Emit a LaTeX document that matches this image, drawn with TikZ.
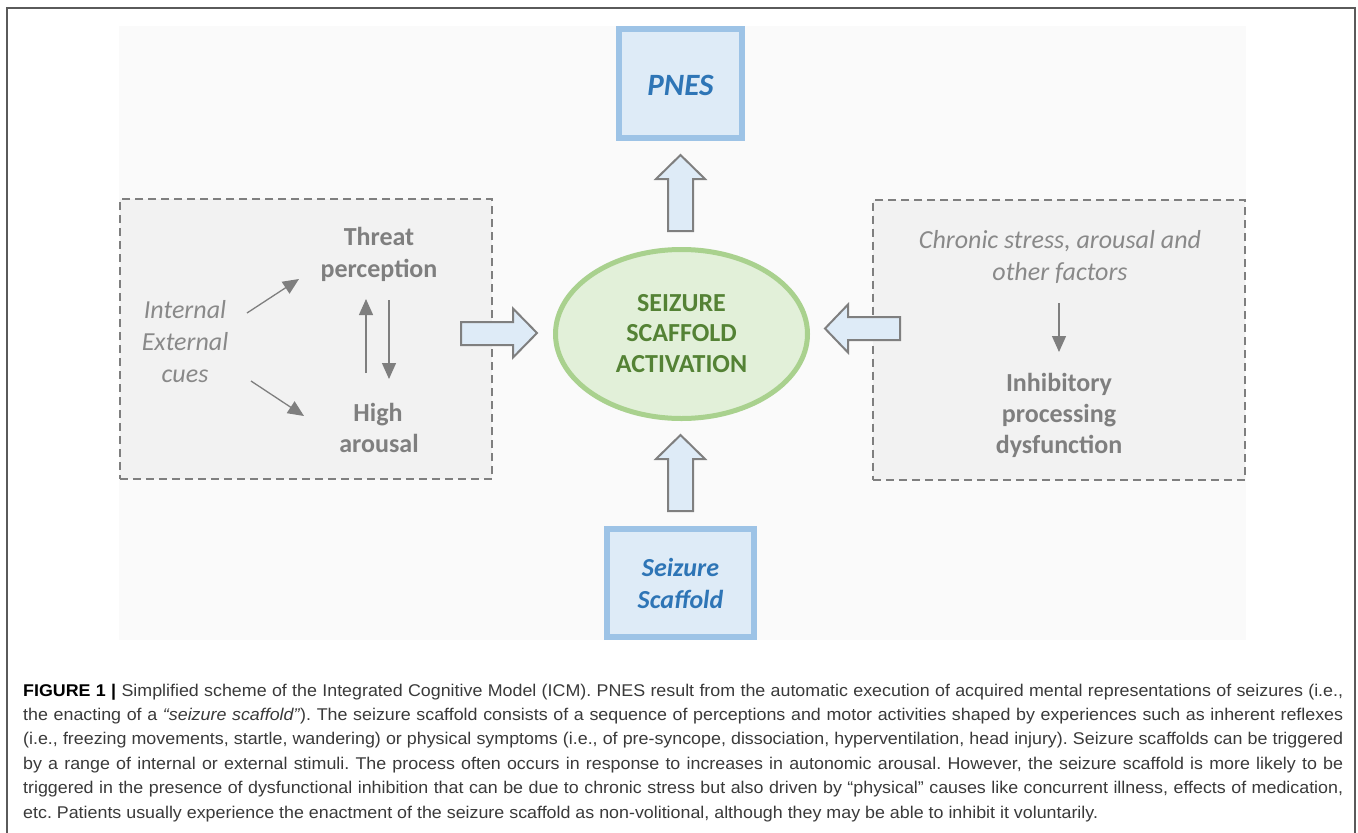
\documentclass[tikz,border=0pt]{standalone}
\usepackage{fontspec}
\setmainfont{Carlito}
\newfontfamily\capfont[FakeStretch=1.05]{Liberation Sans}
\usetikzlibrary{shapes.geometric,arrows.meta}
\definecolor{panelbg}{HTML}{FAFAFA}
\definecolor{boxbg}{HTML}{F2F2F2}
\definecolor{dashc}{HTML}{7F7F7F}
\definecolor{bfill}{HTML}{DEEBF7}
\definecolor{bborder}{HTML}{9DC3E6}
\definecolor{btext}{HTML}{2E75B6}
\definecolor{gfill}{HTML}{E2F0D9}
\definecolor{gborder}{HTML}{A9D18E}
\definecolor{gtext}{HTML}{548235}
\definecolor{tgray}{HTML}{7F7F7F}
\definecolor{igray}{HTML}{898989}
\definecolor{agray}{HTML}{7F7F7F}
\definecolor{captext}{HTML}{3A3A3A}
\definecolor{framec}{HTML}{5A5A5A}
\begin{document}
\begin{tikzpicture}[x=1pt,y=-1pt,
  dashbox/.style={draw=dashc, fill=boxbg, line width=2pt, dash pattern=on 8pt off 5pt, minimum width=372pt, minimum height=280pt, inner sep=0pt},
  bluebox/.style={draw=bborder, fill=bfill, line width=6pt, inner sep=0pt},
  blockarrow/.style={draw=agray, fill=bfill, line width=2pt, line join=miter},
  smallarrow/.style={draw=tgray, line width=1.3pt, -{Triangle[length=16pt,width=14pt]}},
  boldtxt/.style={font=\fontsize{26}{32}\selectfont\bfseries, text=tgray, inner sep=0pt, anchor=base},
  itxt/.style={font=\fontsize{26}{32}\selectfont\itshape, text=igray, inner sep=0pt, anchor=base},
  greentxt/.style={font=\fontsize{26}{32}\selectfont\bfseries, text=gtext, inner sep=0pt, anchor=base},
  bluetxt/.style={font=\fontsize{26}{32}\selectfont\bfseries\itshape, text=btext, inner sep=0pt, anchor=base},
  captxt/.style={font=\capfont\fontsize{17}{20}\selectfont\frenchspacing, text=captext, inner sep=0pt, anchor=base west}
]
\useasboundingbox (0,0) rectangle (1358,833);
\fill[white] (0,0) rectangle (1358,833);
% outer frame
\draw[framec, line width=1.5pt] (7,833) -- (7,8) -- (1355,8) -- (1355,833);
% panel
\fill[panelbg] (119,26) rectangle (1246,640);

% dashed boxes
\node[dashbox] (lbox) at (306,339) {};
\node[dashbox] (rbox) at (1059,339.5) {};

% PNES box
\node[bluebox, minimum width=123pt, minimum height=109pt] (pnes) at (680.5,83.5) {};
\node[bluetxt, font=\fontsize{31}{36}\selectfont\bfseries\itshape] (pnest) at (680.5,95) {PNES};

% Seizure scaffold box
\node[bluebox, minimum width=147pt, minimum height=108pt] (scaf) at (680.5,583) {};
\node[bluetxt] (scaf1) at (680.5,576) {Seizure};
\node[bluetxt] (scaf2) at (680.5,608) {Scaffold};

% ellipse
\node[ellipse, draw=gborder, fill=gfill, line width=5pt, minimum width=252pt, minimum height=169pt, inner sep=0pt] (act) at (681.5,334) {};
\node[greentxt] (act1) at (681.5,311) {SEIZURE};
\node[greentxt] (act2) at (681.5,341) {SCAFFOLD};
\node[greentxt] (act3) at (681.5,372) {ACTIVATION};

% block arrows
\draw[blockarrow] (668,231) -- (668,179) -- (656,179) -- (680.5,155) -- (705,179) -- (693,179) -- (693,231) -- cycle;
\draw[blockarrow] (668,511) -- (668,459) -- (656,459) -- (680.5,435) -- (705,459) -- (693,459) -- (693,511) -- cycle;
\draw[blockarrow] (461,322) -- (513,322) -- (513,308.5) -- (537,333) -- (513,357.5) -- (513,345) -- (461,345) -- cycle;
\draw[blockarrow] (900,317) -- (848,317) -- (848,304.5) -- (825,328.5) -- (848,352.5) -- (848,340) -- (900,340) -- cycle;

% left box texts
\node[itxt] (int1) at (185,318) {Internal};
\node[itxt] (int2) at (185,350) {External};
\node[itxt] (int3) at (185,382) {cues};
\node[boldtxt] (thr1) at (379,245) {Threat};
\node[boldtxt] (thr2) at (379,277) {perception};
\node[boldtxt] (hig1) at (378,421) {High};
\node[boldtxt] (hig2) at (379,452) {arousal};

\coordinate (a1s) at (247,313);
\coordinate (a1e) at (299,279);
\coordinate (a2s) at (251,381);
\coordinate (a2e) at (304,416);
\coordinate (a3s) at (366,373);
\coordinate (a3e) at (366,299);
\coordinate (a4s) at (389,300);
\coordinate (a4e) at (389,379);
\draw[smallarrow] (a1s) -- (a1e);
\draw[smallarrow] (a2s) -- (a2e);
\draw[smallarrow] (a3s) -- (a3e);
\draw[smallarrow] (a4s) -- (a4e);

% right box texts
\node[itxt] (chr1) at (1060,248) {Chronic stress, arousal and};
\node[itxt] (chr2) at (1060,280) {other factors};
\node[boldtxt] (inh1) at (1059,391) {Inhibitory};
\node[boldtxt] (inh2) at (1059,422) {processing};
\node[boldtxt] (inh3) at (1059,453) {dysfunction};
\coordinate (a5s) at (1059,303);
\coordinate (a5e) at (1059,352);
\draw[smallarrow] (a5s) -- (a5e);

% caption
\node[captxt] (cap1) at (23,696) {\makebox[1320pt][s]{\textbf{\color{black}FIGURE 1 |} Simplified scheme of the Integrated Cognitive Model (ICM). PNES result from the automatic execution of acquired mental representations of seizures (i.e.,}};
\node[captxt] (cap2) at (23,720.4) {\makebox[1320pt][s]{the enacting of a \textit{“seizure scaffold”}). The seizure scaffold consists of a sequence of perceptions and motor activities shaped by experiences such as inherent reflexes}};
\node[captxt] (cap3) at (23,744.8) {\makebox[1320pt][s]{(i.e., freezing movements, startle, wandering) or physical symptoms (i.e., of pre-syncope, dissociation, hyperventilation, head injury). Seizure scaffolds can be triggered}};
\node[captxt] (cap4) at (23,769.2) {\makebox[1320pt][s]{by a range of internal or external stimuli. The process often occurs in response to increases in autonomic arousal. However, the seizure scaffold is more likely to be}};
\node[captxt] (cap5) at (23,793.6) {\makebox[1320pt][s]{triggered in the presence of dysfunctional inhibition that can be due to chronic stress but also driven by “physical” causes like concurrent illness, effects of medication,}};
\node[captxt] (cap6) at (23,818) {etc. Patients usually experience the enactment of the seizure scaffold as non-volitional, although they may be able to inhibit it voluntarily.};
\end{tikzpicture}
\end{document}
